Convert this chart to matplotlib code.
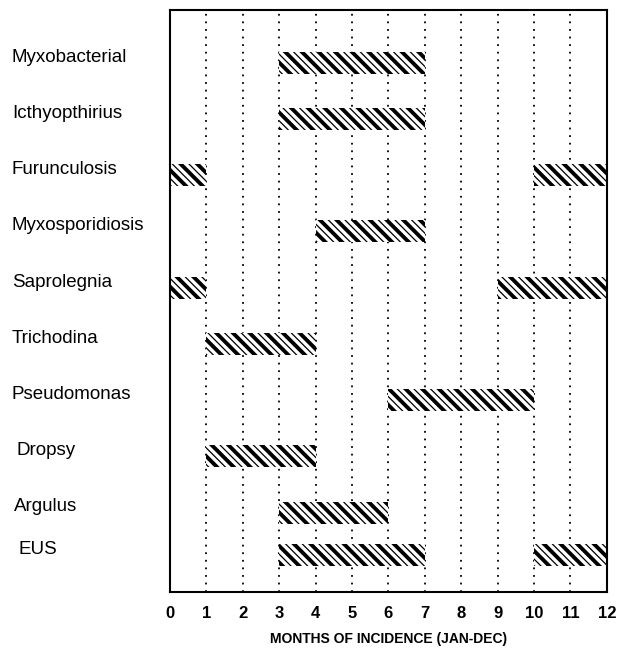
import matplotlib
matplotlib.use("Agg")
import matplotlib.pyplot as plt
import matplotlib.transforms as mtransforms

plt.rcParams['font.family'] = ['Liberation Sans', 'DejaVu Sans']
plt.rcParams['hatch.color'] = 'black'

diseases = ["Myxobacterial", "Icthyopthirius", "Furunculosis", "Myxosporidiosis",
            "Saprolegnia", "Trichodina", "Pseudomonas", "Dropsy", "Argulus", "EUS"]
# incidence periods (start month, end month) for each disease
periods = [
    [(3, 7)],
    [(3, 7)],
    [(0, 1), (10, 12)],
    [(4, 7)],
    [(0, 1), (9, 12)],
    [(1, 4)],
    [(6, 10)],
    [(1, 4)],
    [(3, 6)],
    [(3, 7), (10, 12)],
]
months = list(range(0, 13))
row_pos = [0, 1, 2, 3, 4, 5, 6, 7, 8, 8.75]
label_indent = [0, 0, 0, 0, 0, 0, 0, 0.008, 0.003, 0.011]

fig = plt.figure(figsize=(6.25, 6.54), dpi=100)
ax = fig.add_axes([0.272, 0.095, 0.699, 0.89])

for m in months[1:-1]:
    ax.axvline(m, color='black', lw=1.3, linestyle=(0, (1, 3.2)), zorder=1)

bh = 0.39
for y, per in zip(row_pos, periods):
    segs = [(s, e - s) for s, e in per]
    yr = (y - bh / 2 + 0.05, bh)
    with plt.rc_context({'hatch.linewidth': 0.9}):
        ax.broken_barh(segs, yr, facecolor='white', edgecolor='black',
                       hatch='\\\\\\\\', linewidth=0, zorder=2)
    with plt.rc_context({'hatch.linewidth': 2.8}):
        ax.broken_barh(segs, yr, facecolor='none', edgecolor='black',
                       hatch='\\\\', linewidth=0, zorder=3)

ax.set_xlim(0, 12)
ax.set_ylim(9.46, -0.89)
ax.set_xticks(months)
ax.set_xticklabels([str(m) for m in months], fontsize=12, fontweight='bold')
ax.tick_params(axis='x', length=0, pad=10)
ax.set_yticks([])
for sp in ax.spines.values():
    sp.set_linewidth(1.5)

trans = mtransforms.blended_transform_factory(fig.transFigure, ax.transData)
for name, y, ind in zip(diseases, row_pos, label_indent):
    ax.text(0.019 + ind, y - 0.05, name, transform=trans, ha='left', va='center', fontsize=13.5)

ax.set_xlabel("MONTHS OF INCIDENCE (JAN-DEC)", fontsize=10, fontweight='bold', labelpad=8)

fig.savefig("out.png", dpi=100)
